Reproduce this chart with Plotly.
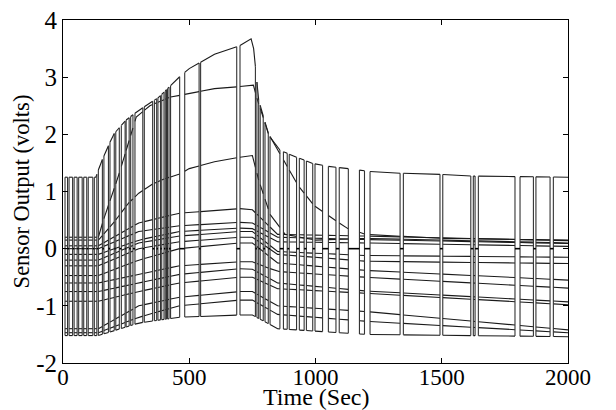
import numpy as np
import plotly.graph_objects as go

# ---------------- data ----------------
# sensor A (top trace) keyframes
a_t = [0, 130, 150, 200, 250, 300, 380, 460, 500, 600, 700, 745, 755, 775, 815, 860, 925, 990, 1050, 1130, 1215, 1335, 1493, 1615, 2000]
a_v = [1.25, 1.25, 1.5, 2.0, 2.25, 2.42, 2.65, 3.0, 3.15, 3.4, 3.55, 3.67, 3.5, 2.6, 1.98, 1.72, 1.6, 1.49, 1.44, 1.4, 1.35, 1.32, 1.3, 1.27, 1.25]

# sensor B keyframes
b_t = [0, 140, 160, 218, 290, 344, 424, 496, 600, 688, 754, 770, 815, 932, 995, 1127, 1200, 1500, 2000]
b_v = [0.2, 0.2, 0.5, 1.25, 2.3, 2.5, 2.65, 2.71, 2.8, 2.83, 2.86, 2.6, 2.0, 1.1, 0.75, 0.35, 0.25, 0.18, 0.15]

# sensor C keyframes
c_t = [0, 140, 200, 260, 300, 350, 400, 460, 500, 600, 700, 750, 775, 820, 880, 1000, 1200, 2000]
c_v = [0.15, 0.15, 0.45, 0.8, 0.97, 1.12, 1.22, 1.3, 1.4, 1.52, 1.6, 1.63, 1.2, 0.6, 0.25, 0.15, 0.18, 0.1]

# remaining sensors share keyframe times
low_t = [0, 140, 300, 460, 700, 750, 850, 1200, 2000]
s1 = [0.05, 0.05, 0.45, 0.62, 0.70, 0.68, 0.25, 0.22, 0.14]
s2 = [0.0, 0.0, 0.3, 0.4, 0.46, 0.45, 0.2, 0.16, 0.09]
s3 = [-0.1, -0.1, 0.15, 0.3, 0.36, 0.35, 0.12, 0.1, 0.04]
s4 = [-0.2, -0.2, 0.1, 0.22, 0.3, 0.3, -0.05, -0.12, -0.15]
s5 = [-0.3, -0.3, 0.0, 0.12, 0.2, 0.2, -0.1, -0.22, -0.26]
s6 = [-0.47, -0.47, -0.2, 0.0, 0.1, 0.1, -0.25, -0.38, -0.55]
s7 = [-0.6, -0.6, -0.45, -0.3, -0.23, -0.23, -0.4, -0.5, -0.69]
s8 = [-0.75, -0.75, -0.6, -0.45, -0.35, -0.36, -0.6, -0.74, -0.93]
s9 = [-0.92, -0.92, -0.75, -0.6, -0.5, -0.5, -0.7, -0.78, -0.98]
s10 = [-1.4, -1.4, -1.0, -0.85, -0.75, -0.75, -1.0, -1.1, -1.42]
s11 = [-1.47, -1.47, -1.2, -1.0, -0.9, -0.9, -1.15, -1.27, -1.47]
s12 = [-1.52, -1.52, -1.3, -1.2, -1.16, -1.16, -1.4, -1.5, -1.54]

# recording span and gaps between recorded blocks (seconds)
rec_start, rec_end = 8, 2000
gaps = [(18, 24), (38, 44), (56, 62), (76, 82), (94, 100), (118, 124),
        (134, 140), (156, 162), (180, 186), (203, 209), (223, 231), (246, 250),
        (262, 268), (277, 285), (316, 322), (355, 362), (371, 376), (386, 391),
        (400, 405), (410, 414), (420, 426), (462, 482), (539, 545), (688, 701),
        (762, 768), (775, 781), (793, 800), (813, 820), (859, 873), (888, 896),
        (925, 936), (955, 964), (989, 998), (1028, 1051), (1081, 1094),
        (1130, 1174), (1194, 1216), (1335, 1348), (1493, 1504), (1615, 1625),
        (1632, 1645), (1790, 1810), (1863, 1873), (1929, 1942)]
gap_level = 0.0

x_ticks = [0, 500, 1000, 1500, 2000]
y_ticks = [-2, -1, 0, 1, 2, 3, 4]

# ---------------- build figure ----------------
sensors = [(a_t, a_v), (b_t, b_v), (c_t, c_v)] + [(low_t, s) for s in
           [s1, s2, s3, s4, s5, s6, s7, s8, s9, s10, s11, s12]]

edges = [rec_start]
for g0, g1 in gaps:
    edges += [g0, g1]
edges.append(rec_end)
segments = [(edges[i], edges[i + 1]) for i in range(0, len(edges), 2)]

LINE = '#1a1a1a'
fig = go.Figure()

for st, sv in sensors:
    xs, ys = [], []
    for s, e in segments:
        inner = [t for t in st if s < t < e]
        pts = [s] + inner + [e]
        xs += pts + [None]
        ys += list(np.interp(pts, st, sv)) + [None]
    fig.add_trace(go.Scatter(x=xs, y=ys, mode='lines',
                             line=dict(color=LINE, width=1.1), hoverinfo='skip'))

# vertical connectors at block edges
vx, vy = [], []
for b in edges[:-1]:
    vals = [np.interp(b, st, sv) for st, sv in sensors]
    vx += [b, b, None]
    vy += [min(vals), max(vals), None]
fig.add_trace(go.Scatter(x=vx, y=vy, mode='lines',
                         line=dict(color='#333333', width=1.1), hoverinfo='skip'))

# flat line at zero across gaps
zx, zy = [], []
for g0, g1 in gaps:
    zx += [g0, g1, None]
    zy += [gap_level, gap_level, None]
fig.add_trace(go.Scatter(x=zx, y=zy, mode='lines',
                         line=dict(color='#000000', width=1.6), hoverinfo='skip'))

FONT = 'Liberation Serif, Times New Roman, serif'
fig.update_layout(
    width=616, height=410,
    margin=dict(l=63, r=48, t=20, b=47, autoexpand=False),
    paper_bgcolor='white', plot_bgcolor='white',
    showlegend=False,
    font=dict(family=FONT, size=25, color='black'),
    xaxis=dict(range=[0, 2000], tickvals=x_ticks, ticktext=[str(v) for v in x_ticks],
               ticks='inside', ticklen=5, tickcolor='black', showgrid=False, zeroline=False,
               showline=True, linecolor='black', linewidth=1, mirror='ticks',
               tickfont=dict(size=23), automargin=False, ticklabelstandoff=-7),
    yaxis=dict(range=[-2, 4], tickvals=y_ticks, ticktext=[str(v) for v in y_ticks],
               ticks='inside', ticklen=5, tickcolor='black', showgrid=False, zeroline=False,
               showline=True, linecolor='black', linewidth=1, mirror='ticks',
               tickfont=dict(size=25), automargin=False,
               title=dict(text='Sensor Output (volts)', standoff=0, font=dict(size=22.5))),
    annotations=[dict(text='Time (Sec)', xref='paper', yref='paper', x=0.5, y=-0.099,
                      xanchor='center', yanchor='middle', showarrow=False,
                      font=dict(family=FONT, size=24, color='black'))],
)

fig.write_html('out.html', config={'displayModeBar': False},
               post_script="document.body.style.margin='0';document.body.style.overflow='hidden';")
